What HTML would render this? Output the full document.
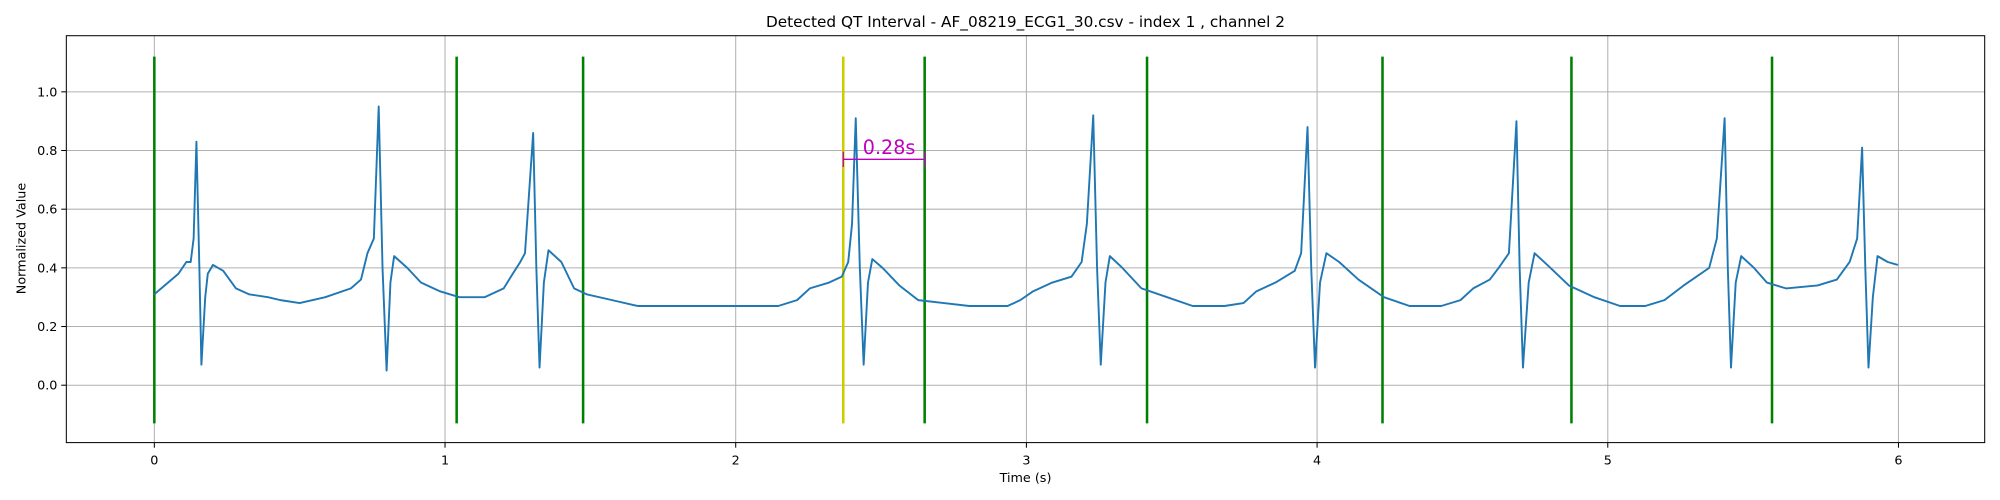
<!DOCTYPE html>
<html><head><meta charset="utf-8"><style>
body{margin:0;background:#fff;font-family:"Liberation Sans","DejaVu Sans",sans-serif}
svg{display:block}
svg text{font-family:"DejaVu Sans","Liberation Sans",sans-serif}
</style></head><body>
<svg id="c" width="2000" height="500" viewBox="0 0 1568 392" preserveAspectRatio="none">
<rect width="1568" height="392" fill="#fff"/>
</svg>
<script>
const times=[0,.083,.110,.125,.135,.145,.155,.162,.175,.184,.202,.237,.281,.325,.391,.434,.50,.588,.676,.711,.733,.755,.772,.785,.799,.812,.825,.870,.917,.983,1.049,1.136,1.202,1.233,1.259,1.275,1.303,1.314,1.325,1.340,1.356,1.400,1.444,1.487,1.575,1.663,1.926,2.146,2.211,2.255,2.321,2.365,2.387,2.400,2.413,2.427,2.440,2.455,2.470,2.505,2.563,2.628,2.716,2.804,2.935,2.979,3.023,3.089,3.155,3.190,3.208,3.230,3.243,3.256,3.272,3.287,3.330,3.396,3.484,3.572,3.681,3.747,3.791,3.857,3.923,3.945,3.967,3.980,3.993,4.010,4.032,4.076,4.142,4.230,4.318,4.427,4.493,4.537,4.594,4.625,4.660,4.686,4.697,4.708,4.728,4.748,4.792,4.866,4.954,5.042,5.129,5.195,5.261,5.305,5.349,5.375,5.402,5.413,5.424,5.440,5.459,5.503,5.547,5.613,5.722,5.788,5.832,5.858,5.875,5.886,5.897,5.912,5.928,5.963,5.998];
const values=[.31,.38,.42,.42,.50,.83,.40,.07,.30,.38,.41,.39,.33,.31,.30,.29,.28,.30,.33,.36,.45,.50,.95,.40,.05,.35,.44,.40,.35,.32,.30,.30,.33,.38,.42,.45,.86,.40,.06,.35,.46,.42,.33,.31,.29,.27,.27,.27,.29,.33,.35,.37,.42,.55,.91,.40,.07,.35,.43,.40,.34,.29,.28,.27,.27,.29,.32,.35,.37,.42,.55,.92,.40,.07,.35,.44,.40,.33,.30,.27,.27,.28,.32,.35,.39,.45,.88,.40,.06,.35,.45,.42,.36,.30,.27,.27,.29,.33,.36,.40,.45,.90,.40,.06,.35,.45,.41,.34,.30,.27,.27,.29,.34,.37,.40,.50,.91,.40,.06,.35,.44,.40,.35,.33,.34,.36,.42,.50,.81,.40,.06,.30,.44,.42,.41];
const greenLines=[0,1.04,1.475,2.65,3.415,4.225,4.875,5.565];
const yellowLines=[2.37];
const xTicks=[0,1,2,3,4,5,6];
const yTicks=[0,0.2,0.4,0.6,0.8,1.0];
const qtStart=2.37, qtEnd=2.65, qtLevel=0.77, qtLabel="0.28s";
const vMin=-0.13, vMax=1.12;

const L=52,R=1556,T=28,B=347;
const X=t=>121+t*227.9;
const Y=v=>302-v*230;
const svg=document.getElementById('c');
const NS='http://www.w3.org/2000/svg';
function mk(tag,a,parent){const e=document.createElementNS(NS,tag);for(const k in a)e.setAttribute(k,a[k]);(parent||svg).appendChild(e);return e;}

const grid=mk('g',{});


xTicks.forEach(t=>{const l=mk('line',{x1:X(t),x2:X(t),y1:T,y2:B,stroke:'#b0b0b0','stroke-width':0.8},grid);

});
yTicks.forEach(v=>{const l=mk('line',{x1:L,x2:R,y1:Y(v),y2:Y(v),stroke:'#b0b0b0','stroke-width':0.8},grid);

});

greenLines.forEach(t=>{const l=mk('line',{x1:X(t),x2:X(t),y1:Y(vMin),y2:Y(vMax),stroke:'#008000','stroke-width':2});

});
yellowLines.forEach(t=>{const l=mk('line',{x1:X(t),x2:X(t),y1:Y(vMin),y2:Y(vMax),stroke:'#cccc00','stroke-width':2});

});

const pts=times.map((t,i)=>X(t).toFixed(1)+','+Y(values[i]).toFixed(1)).join(' ');
const sig=mk('polyline',{points:pts,fill:'none',stroke:'#1f77b4','stroke-width':1.5,'stroke-linejoin':'round'});



const ann=mk('g',{});


mk('line',{x1:X(qtStart),x2:X(qtEnd),y1:Y(qtLevel),y2:Y(qtLevel),stroke:'#bf00bf','stroke-width':1},ann);
mk('line',{x1:X(qtStart),x2:X(qtStart),y1:Y(qtLevel)-6,y2:Y(qtLevel)+6,stroke:'#bf00bf','stroke-width':1},ann);
mk('line',{x1:X(qtEnd),x2:X(qtEnd),y1:Y(qtLevel)-6,y2:Y(qtLevel)+6,stroke:'#bf00bf','stroke-width':1},ann);
const at=mk('text',{x:(X(qtStart)+X(qtEnd))/2+4,y:Y(qtLevel)-4,'text-anchor':'middle','font-size':15,fill:'#bf00bf'},ann);
at.textContent=qtLabel;

const frame=mk('rect',{x:L,y:T,width:R-L,height:B-T,fill:'none',stroke:'#000','stroke-width':0.8});



xTicks.forEach(t=>{mk('line',{x1:X(t),x2:X(t),y1:B,y2:B+4,stroke:'#000','stroke-width':0.8});
const tx=mk('text',{x:X(t),y:B+17,'text-anchor':'middle','font-size':10,fill:'#000'});


tx.textContent=t;});
yTicks.forEach(v=>{mk('line',{x1:L-4,x2:L,y1:Y(v),y2:Y(v),stroke:'#000','stroke-width':0.8});
const tx=mk('text',{x:L-7,y:Y(v)+3.5,'text-anchor':'end','font-size':10,fill:'#000'});


tx.textContent=v.toFixed(1);});

const title=mk('text',{x:804,y:21,'text-anchor':'middle','font-size':12,fill:'#000'});


title.textContent='Detected QT Interval - AF_08219_ECG1_30.csv - index 1 , channel 2';
const xl=mk('text',{x:804,y:378,'text-anchor':'middle','font-size':10,fill:'#000'});


xl.textContent='Time (s)';
const yl=mk('text',{x:20,y:187,'text-anchor':'middle','font-size':10,fill:'#000',transform:'rotate(-90 20 187)'});


yl.textContent='Normalized Value';
</script>
</body></html>
